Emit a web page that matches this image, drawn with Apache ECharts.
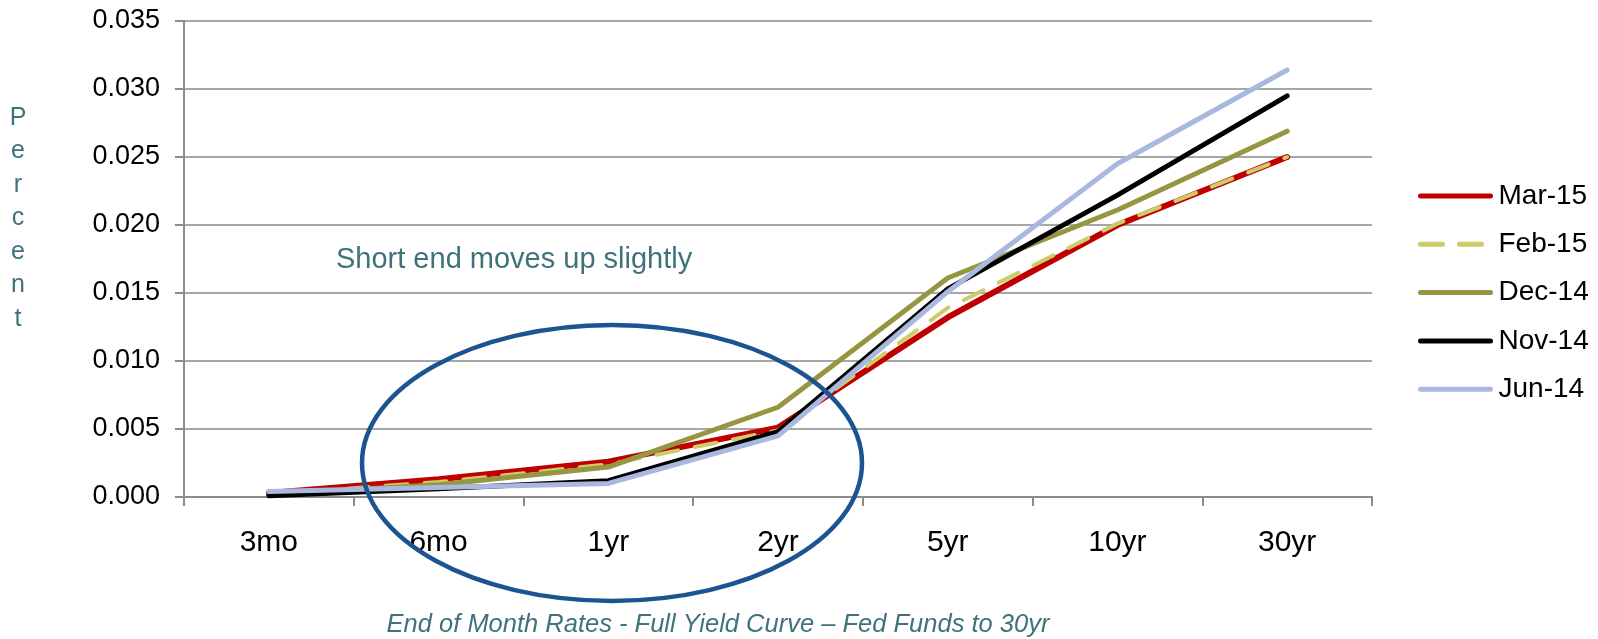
<!DOCTYPE html>
<html>
<head>
<meta charset="utf-8">
<title>Yield Curve</title>
<script src="https://cdn.jsdelivr.net/npm/echarts@6/dist/echarts.min.js"></script>
<style>
  html, body { margin: 0; padding: 0; background: #fff; }
  #yieldChart { width: 1598px; height: 639px; }
</style>
</head>
<body>
<div id="yieldChart"></div>
<script>
// categories on the x axis
const maturities = ['3mo', '6mo', '1yr', '2yr', '5yr', '10yr', '30yr']
// end of month rates
const mar15 = [0.0003, 0.0013, 0.0026, 0.0051, 0.0132, 0.0200, 0.0250]
const feb15 = [0.0002, 0.0011, 0.0024, 0.0049, 0.0139, 0.0201, 0.0250]
const dec14 = [0.0002, 0.0009, 0.0022, 0.0066, 0.0161, 0.0211, 0.0269]
const nov14 = [0.0001, 0.0006, 0.0012, 0.0048, 0.0153, 0.0222, 0.0295]
const jun14 = [0.0004, 0.0007, 0.0010, 0.0045, 0.0151, 0.0245, 0.0314]
const seriesNames = ['Mar-15', 'Feb-15', 'Dec-14', 'Nov-14', 'Jun-14']

const FONT = '"Liberation Sans", Arial, sans-serif'
const TEAL = '#3f7279'

const lineSeries = (name, data, color, width, dash) => ({
  name: name,
  type: 'line',
  data: data,
  symbol: 'none',
  lineStyle: {
    color: color,
    width: width,
    type: dash ? [22, 17] : 'solid',
    cap: 'round',
    join: 'round',
  },
  itemStyle: { color: color },
})

const option = {
  animation: false,
  textStyle: { fontFamily: FONT },
  grid: {
    left: 184,
    right: 226,
    top: 21,
    bottom: 142,
  },
  legend: {
    orient: 'vertical',
    left: 1413,
    top: 176,
    itemWidth: 70,
    itemHeight: 14,
    itemGap: 18.3,
    data: seriesNames,
    // 只显示线条，不显示圆点
    itemStyle: { opacity: 0 },
    lineStyle: { width: 5, cap: 'round' },
    textStyle: {
      color: '#000',
      fontSize: 28,
      fontFamily: FONT,
      lineHeight: 30,
      padding: [0, 0, 0, 3],
    },
  },
  xAxis: {
    type: 'category',
    data: maturities,
    boundaryGap: true,
    axisLine: { lineStyle: { color: '#8c8c8c', width: 2 } },
    axisTick: { show: true, length: 9, lineStyle: { color: '#8c8c8c', width: 2 } },
    axisLabel: {
      color: '#000',
      fontSize: 30,
      fontFamily: FONT,
      margin: 31,
    },
  },
  yAxis: {
    type: 'value',
    min: 0,
    max: 0.035,
    interval: 0.005,
    axisLine: { show: true, lineStyle: { color: '#8c8c8c', width: 2 } },
    axisTick: { show: true, length: 9, lineStyle: { color: '#8c8c8c', width: 2 } },
    axisLabel: {
      color: '#000',
      fontSize: 27,
      fontFamily: FONT,
      margin: 24,
      formatter: (v) => v.toFixed(3),
    },
    // 网格线
    splitLine: { lineStyle: { color: '#a6a6a6', width: 2 } },
  },
  series: [
    lineSeries('Mar-15', mar15, '#c00000', 6, false),
    lineSeries('Feb-15', feb15, '#cccc6a', 4, true),
    lineSeries('Dec-14', dec14, '#969642', 5, false),
    lineSeries('Nov-14', nov14, '#000000', 5, false),
    lineSeries('Jun-14', jun14, '#a8b8de', 5, false),
  ],
  graphic: [
    {
      type: 'text',
      x: 18,
      y: 101,
      style: {
        text: 'P\ne\nr\nc\ne\nn\nt',
        font: '25px ' + FONT,
        fill: TEAL,
        lineHeight: 33.5,
        align: 'center',
      },
    },
    {
      type: 'text',
      x: 336,
      y: 260,
      style: {
        text: 'Short end moves up slightly',
        font: '29px ' + FONT,
        fill: TEAL,
        verticalAlign: 'middle',
      },
    },
    {
      type: 'text',
      x: 718,
      y: 625,
      style: {
        text: 'End of Month Rates - Full Yield Curve \u2013 Fed Funds to 30yr',
        font: 'italic 25.5px ' + FONT,
        fill: TEAL,
        align: 'center',
        verticalAlign: 'middle',
      },
    },
    {
      type: 'ellipse',
      z: 100,
      shape: { cx: 612, cy: 463, rx: 250, ry: 138 },
      style: { fill: 'none', stroke: '#1c5491', lineWidth: 4.5 },
    },
  ],
}

const chart = echarts.init(document.getElementById('yieldChart'))
chart.setOption(option)
window.onresize = function () {
  chart.resize()
}
</script>
</body>
</html>
